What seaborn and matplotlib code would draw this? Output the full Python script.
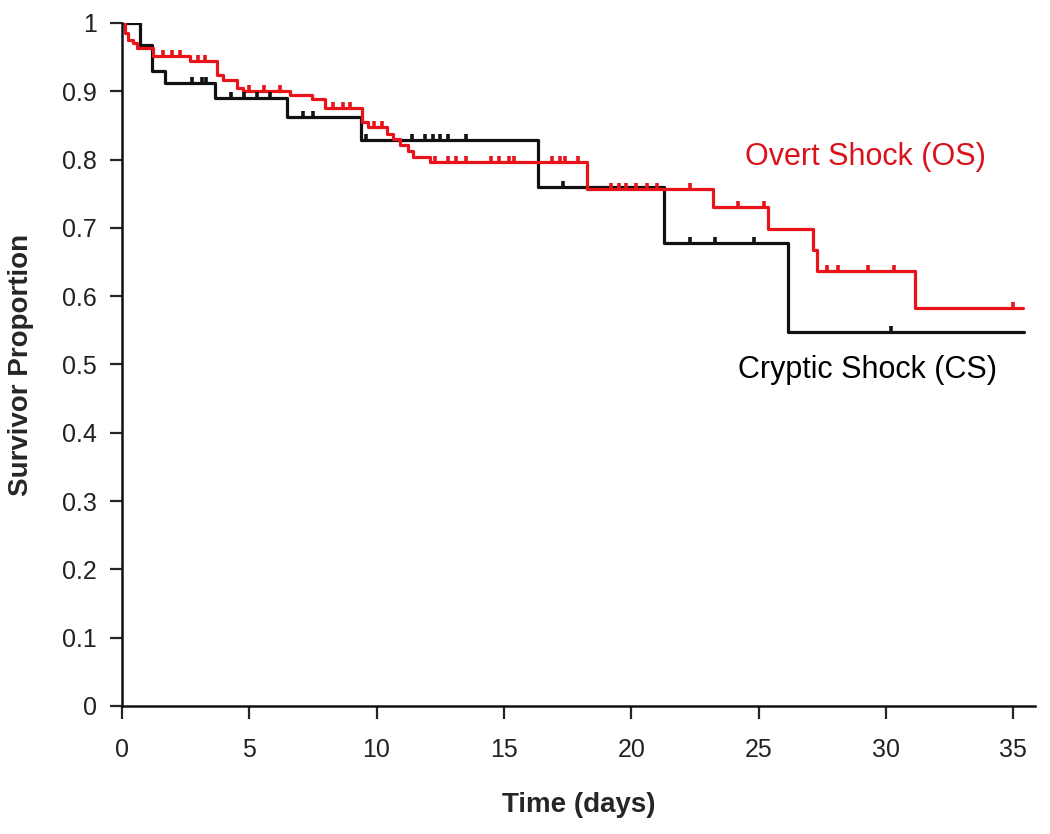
import numpy as np
import pandas as pd
import seaborn as sns
import matplotlib.pyplot as plt

# Kaplan-Meier steps (time in days, survivor proportion after the step)
cs_time = [0, 0.7, 1.2, 1.7, 3.65, 6.5, 9.4, 16.35, 21.3, 26.15, 35.4]
cs_surv = [1.0, 0.968, 0.929, 0.912, 0.89, 0.863, 0.829, 0.76, 0.678, 0.548, 0.548]
cs_censor = [2.75, 3.15, 3.3, 4.3, 4.8, 5.3, 5.8, 7.1, 7.5, 9.6, 11.4, 11.9, 12.2,
             12.5, 12.8, 13.5, 17.3, 22.3, 23.3, 24.8, 30.2]

os_time = [0, 0.12, 0.24, 0.43, 0.59, 1.22, 2.67, 3.73, 3.97, 4.52, 4.75, 6.6, 7.46,
           7.97, 9.43, 9.66, 10.41, 10.64, 10.92, 11.23, 11.43, 12.1, 18.26, 23.2,
           25.37, 27.14, 27.3, 31.15, 35.39]
os_surv = [1.0, 0.985, 0.975, 0.97, 0.963, 0.952, 0.945, 0.924, 0.916, 0.905, 0.9,
           0.895, 0.888, 0.875, 0.855, 0.848, 0.838, 0.83, 0.822, 0.813, 0.803, 0.796,
           0.757, 0.73, 0.698, 0.668, 0.637, 0.583, 0.583]
os_censor = [1.6, 1.97, 2.28, 2.98, 3.25, 5.0, 5.6, 6.2, 8.3, 8.7, 8.95, 9.9, 10.2,
             12.3, 12.8, 13.1, 13.5, 14.5, 14.8, 15.2, 15.4, 16.9, 17.2, 17.4, 17.9,
             19.2, 19.5, 19.8, 20.2, 20.6, 21.0, 22.3, 24.2, 25.2, 27.7, 28.1, 29.3,
             30.3, 35.0]

x_ticks = [0, 5, 10, 15, 20, 25, 30, 35]
y_ticks = [0, 0.1, 0.2, 0.3, 0.4, 0.5, 0.6, 0.7, 0.8, 0.9, 1.0]
y_labels = ["0", "0.1", "0.2", "0.3", "0.4", "0.5", "0.6", "0.7", "0.8", "0.9", "1"]

sns.set_style("ticks")
plt.rcParams["font.family"] = ["Liberation Sans", "DejaVu Sans"]


def censor_points(times, surv, cens):
    idx = np.searchsorted(times, cens, side="right") - 1
    return pd.DataFrame({"t": cens, "s": np.array(surv)[idx]})


cs = pd.DataFrame({"t": cs_time, "s": cs_surv})
os_ = pd.DataFrame({"t": os_time, "s": os_surv})

fig = plt.figure(figsize=(10.5, 8.34), dpi=100)
ax = fig.add_axes([0.116, 0.1535, 0.87, 0.819])

sns.lineplot(data=cs, x="t", y="s", ax=ax, color="#111111", lw=2.3,
             drawstyle="steps-post", estimator=None, sort=False)
sns.lineplot(data=os_, x="t", y="s", ax=ax, color="#e8141a", lw=2.3,
             drawstyle="steps-post", estimator=None, sort=False)

# censored observations as short ticks above the curve
cc = censor_points(cs_time, cs_surv, cs_censor)
oc = censor_points(os_time, os_surv, os_censor)
ax.plot(cc["t"], cc["s"], ls="none", marker=2, ms=4, mew=2.6, color="#111111")
ax.plot(oc["t"], oc["s"], ls="none", marker=2, ms=4, mew=2.6, color="#e8141a")

ax.text(29.2, 0.804, "Overt Shock (OS)", color="#d8141a", fontsize=22,
        ha="center", va="center")
ax.text(29.26, 0.492, "Cryptic Shock (CS)", color="black", fontsize=22,
        ha="center", va="center")

ax.set_xlim(0, 35.86)
ax.set_ylim(0, 1.0)
ax.set_xticks(x_ticks)
ax.set_yticks(y_ticks)
ax.set_yticklabels(y_labels)
ax.tick_params(axis="both", direction="out", length=9, width=1.6,
               labelsize=18, labelcolor="#222222")
ax.tick_params(axis="x", pad=14)
ax.tick_params(axis="y", pad=9)
for side in ["left", "bottom"]:
    ax.spines[side].set_linewidth(1.8)
    ax.spines[side].set_color("#111111")
sns.despine(ax=ax)

ax.set_xlabel("Time (days)", fontsize=20, fontweight="bold", labelpad=22)
ax.set_ylabel("Survivor Proportion", fontsize=20, fontweight="bold", labelpad=20)

plt.savefig("out.png", dpi=100)
